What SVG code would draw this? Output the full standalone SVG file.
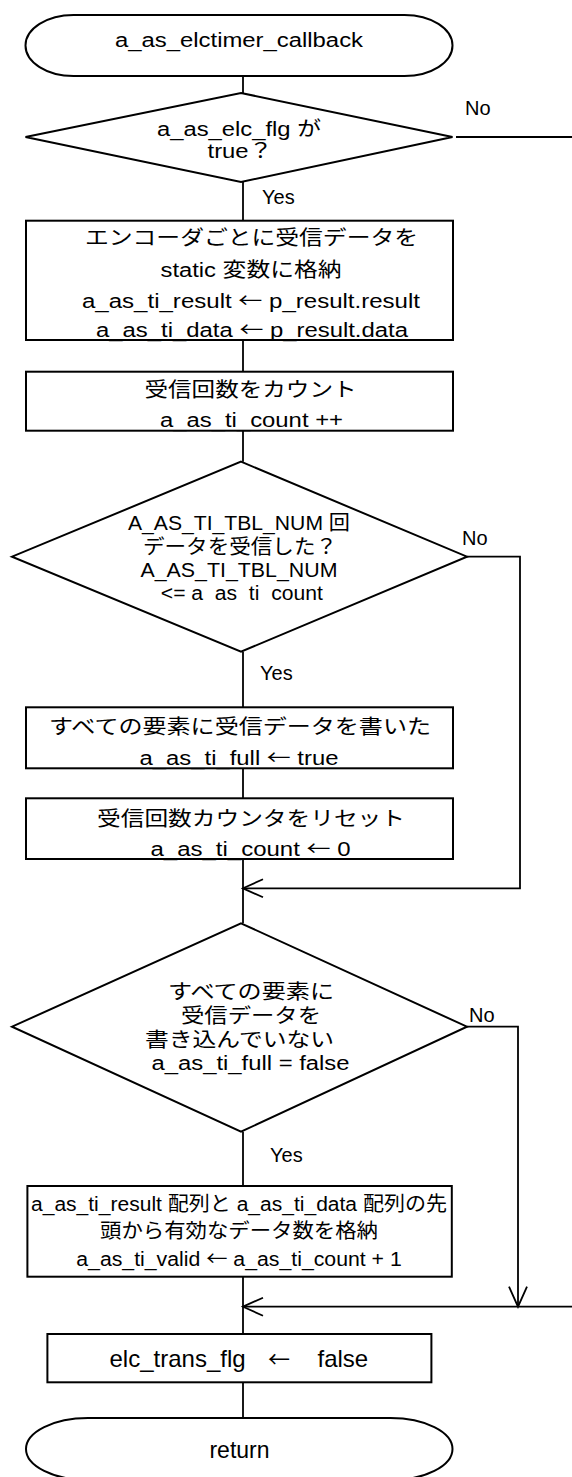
<svg xmlns="http://www.w3.org/2000/svg" width="572" height="1477" viewBox="0 0 572 1477">
<style>
.s{fill:#fff;stroke:#000;stroke-width:2}
.c{fill:none;stroke:#000;stroke-width:1.8}
text{font-family:"Liberation Sans","Noto Sans CJK JP",sans-serif;font-size:20px;fill:#000}
.m{text-anchor:middle}
.a{font-family:"Noto Sans CJK JP",sans-serif}
</style>
<defs>
<marker id="ah" viewBox="-22 -11 24 22" refX="0" refY="0" markerWidth="24" markerHeight="22" markerUnits="userSpaceOnUse" orient="auto">
<path d="M-20,-9 L0,0 L-20,9" fill="none" stroke="#000" stroke-width="1.8"/>
</marker>
<clipPath id="clip1"><rect x="100" y="580" width="300" height="21.5"/></clipPath>
</defs>
<g id="connectors">
<path class="c" d="M243,76 V93"/>
<path class="c" d="M456,137 H572"/>
<path class="c" d="M243,182 V220.7"/>
<path class="c" d="M243,340 V371.7"/>
<path class="c" d="M243,430.7 V461.7"/>
<path class="c" d="M243,651.7 V707.3"/>
<path class="c" d="M243,768.3 V798.3"/>
<path class="c" d="M243,859 V923.3"/>
<path class="c" d="M467,556.7 H520 V888.3 H243" marker-end="url(#ah)"/>
<path class="c" d="M243,1131.7 V1186"/>
<path class="c" d="M467,1026.7 H518 V1306.7" marker-end="url(#ah)"/>
<path class="c" d="M572,1306.7 H243" marker-end="url(#ah)"/>
<path class="c" d="M243,1276.7 V1334"/>
<path class="c" d="M243,1382.3 V1418"/>
<text x="465" y="115">No</text>
<text x="262" y="204">Yes</text>
<text x="462" y="545">No</text>
<text x="260" y="680">Yes</text>
<text x="469" y="1022">No</text>
<text x="270" y="1162">Yes</text>
</g>
<g id="start">
<rect class="s" x="25.5" y="15" width="427" height="61" rx="48" ry="30.5"/>
<text class="m" x="239" y="47" textLength="248" lengthAdjust="spacingAndGlyphs">a_as_elctimer_callback</text>
</g>
<g id="dec1">
<polygon class="s" points="241,93 452.5,137 241,182 25.5,137"/>
<text class="m" x="239" y="136" textLength="164" lengthAdjust="spacingAndGlyphs">a_as_elc_flg が</text>
<text class="m" x="240" y="158" textLength="65" lengthAdjust="spacingAndGlyphs">true？</text>
</g>
<g id="box1">
<rect class="s" x="26" y="220.7" width="427" height="119.3"/>
<text class="m" x="251.5" y="245" textLength="333" lengthAdjust="spacingAndGlyphs">エンコーダごとに受信データを</text>
<text class="m" x="251" y="277" textLength="181" lengthAdjust="spacingAndGlyphs">static 変数に格納</text>
<text class="m" x="251" y="308" textLength="338" lengthAdjust="spacingAndGlyphs">a_as_ti_result <tspan class="a">←</tspan> p_result.result</text>
<text class="m" x="252" y="337" textLength="312" lengthAdjust="spacingAndGlyphs">a_as_ti_data <tspan class="a">←</tspan> p_result.data</text>
</g>
<g id="box2">
<rect class="s" x="26" y="371.7" width="427" height="59"/>
<text class="m" x="250.5" y="397" textLength="212" lengthAdjust="spacingAndGlyphs">受信回数をカウント</text>
<text class="m" x="251.5" y="427" textLength="183" lengthAdjust="spacingAndGlyphs">a_as_ti_count ++</text>
</g>
<g id="dec2">
<polygon class="s" points="241,461.7 467,556.7 241,651.7 12,556.7"/>
<text class="m" x="239" y="530" textLength="222" lengthAdjust="spacingAndGlyphs">A_AS_TI_TBL_NUM 回</text>
<text class="m" x="240" y="554" textLength="194" lengthAdjust="spacingAndGlyphs">データを受信した？</text>
<text class="m" x="239" y="577" textLength="197" lengthAdjust="spacingAndGlyphs">A_AS_TI_TBL_NUM</text>
<text class="m" x="241.8" y="600" textLength="162" lengthAdjust="spacingAndGlyphs" clip-path="url(#clip1)">&lt;= a_as_ti_count</text>
</g>
<g id="box3">
<rect class="s" x="26" y="707.3" width="427" height="61"/>
<text class="m" x="240" y="734" textLength="382" lengthAdjust="spacingAndGlyphs">すべての要素に受信データを書いた</text>
<text class="m" x="239" y="765" textLength="199" lengthAdjust="spacingAndGlyphs">a_as_ti_full <tspan class="a">←</tspan> true</text>
</g>
<g id="box4">
<rect class="s" x="26" y="798.3" width="427" height="60.7"/>
<text class="m" x="251" y="826" textLength="308" lengthAdjust="spacingAndGlyphs">受信回数カウンタをリセット</text>
<text class="m" x="250.5" y="856" textLength="200" lengthAdjust="spacingAndGlyphs">a_as_ti_count <tspan class="a">←</tspan> 0</text>
</g>
<g id="dec3">
<polygon class="s" points="241,923.3 467,1026.7 241,1131.7 12,1026.7"/>
<text class="m" x="251" y="999" textLength="166" lengthAdjust="spacingAndGlyphs">すべての要素に</text>
<text class="m" x="251" y="1023" textLength="140" lengthAdjust="spacingAndGlyphs">受信データを</text>
<text class="m" x="239.5" y="1047" textLength="189" lengthAdjust="spacingAndGlyphs">書き込んでいない</text>
<text class="m" x="250.5" y="1070" textLength="198" lengthAdjust="spacingAndGlyphs">a_as_ti_full = false</text>
</g>
<g id="box5">
<rect class="s" x="27.4" y="1186" width="424.4" height="90.7"/>
<text class="m" x="239" y="1211" textLength="416" lengthAdjust="spacingAndGlyphs">a_as_ti_result 配列と a_as_ti_data 配列の先</text>
<text class="m" x="239" y="1238" textLength="278" lengthAdjust="spacingAndGlyphs">頭から有効なデータ数を格納</text>
<text class="m" x="239" y="1266" textLength="325.5" lengthAdjust="spacingAndGlyphs">a_as_ti_valid <tspan class="a">←</tspan> a_as_ti_count + 1</text>
</g>
<g id="box6">
<rect class="s" x="47.4" y="1334" width="384" height="48.3"/>
<text y="1367" style="font-size:24px"><tspan x="109.5">elc_trans_flg </tspan><tspan x="268" class="a" style="font-size:22px">← </tspan><tspan x="317.5">false</tspan></text>
</g>
<g id="end">
<rect class="s" x="26" y="1418" width="426.5" height="62" rx="62" ry="31"/>
<text class="m" x="239.5" y="1458" style="font-size:23px">return</text>
</g>
</svg>
